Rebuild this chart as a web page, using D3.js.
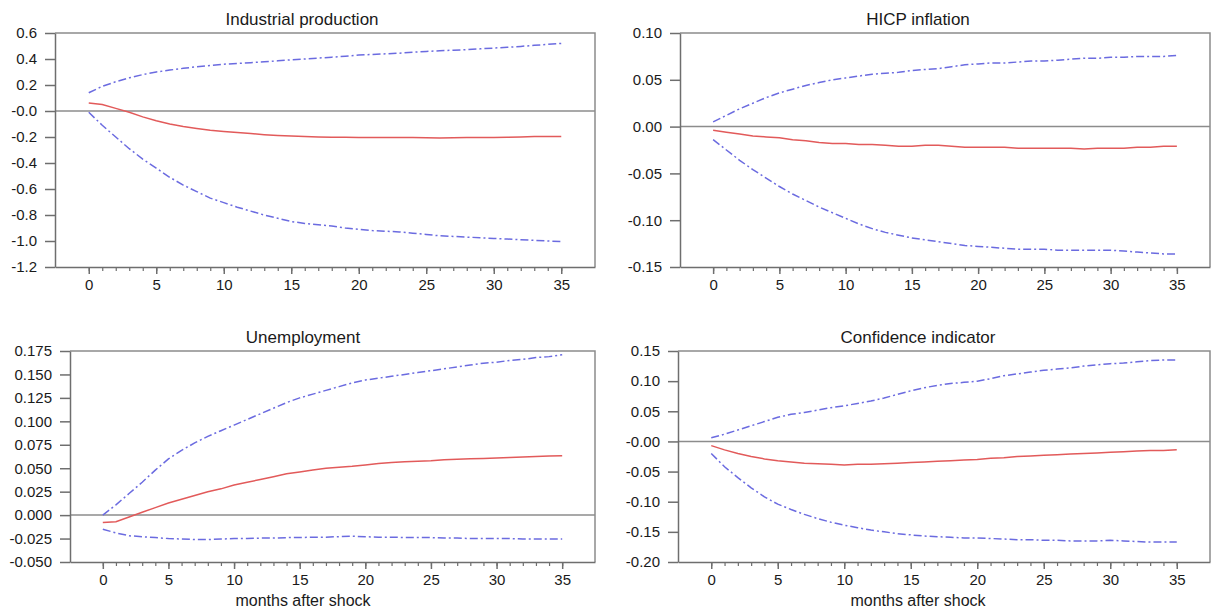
<!DOCTYPE html>
<html><head><meta charset="utf-8">
<script src="https://cdn.jsdelivr.net/npm/d3@7"></script>
<style>
body{margin:0;background:#fff}
svg{display:block}
text{font-family:Arial,"Liberation Sans",sans-serif;fill:#1a1a1a}
</style>
</head><body>
<svg id="chart" width="1211" height="615"></svg>
<script>
// ---------- DATA ----------
const months = [0,1,2,3,4,5,6,7,8,9,10,11,12,13,14,15,16,17,18,19,20,21,22,23,24,25,26,27,28,29,30,31,32,33,34,35];
const xMajorTicks = [0,5,10,15,20,25,30,35];

const titles = ["Industrial production","HICP inflation","Unemployment","Confidence indicator"];
const xAxisTitle = "months after shock";

// Industrial production
const ipMid = [0.062,0.05,0.02,-0.01,-0.045,-0.075,-0.1,-0.12,-0.135,-0.148,-0.158,-0.166,-0.174,-0.182,-0.188,-0.193,-0.197,-0.2,-0.202,-0.202,-0.203,-0.203,-0.203,-0.204,-0.204,-0.205,-0.208,-0.205,-0.203,-0.203,-0.203,-0.202,-0.2,-0.197,-0.196,-0.196];
const ipUp = [0.14,0.19,0.225,0.255,0.28,0.3,0.315,0.328,0.34,0.35,0.36,0.366,0.372,0.378,0.386,0.394,0.4,0.407,0.414,0.422,0.43,0.435,0.44,0.445,0.452,0.458,0.463,0.468,0.472,0.478,0.484,0.49,0.497,0.505,0.513,0.52];
const ipLo = [-0.01,-0.11,-0.2,-0.29,-0.37,-0.44,-0.51,-0.57,-0.62,-0.67,-0.705,-0.74,-0.77,-0.8,-0.825,-0.85,-0.865,-0.875,-0.885,-0.9,-0.91,-0.92,-0.925,-0.93,-0.94,-0.95,-0.96,-0.965,-0.97,-0.975,-0.98,-0.985,-0.99,-0.995,-1.0,-1.005];
const ipTicks = [0.6,0.4,0.2,0,-0.2,-0.4,-0.6,-0.8,-1.0,-1.2];
const ipTickLabels = ["0.6","0.4","0.2","-0.0","-0.2","-0.4","-0.6","-0.8","-1.0","-1.2"];

// HICP inflation
const hicpMid = [-0.004,-0.006,-0.008,-0.01,-0.011,-0.012,-0.014,-0.015,-0.017,-0.018,-0.018,-0.019,-0.019,-0.02,-0.021,-0.021,-0.02,-0.02,-0.021,-0.022,-0.022,-0.022,-0.022,-0.023,-0.023,-0.023,-0.023,-0.023,-0.024,-0.023,-0.023,-0.023,-0.022,-0.022,-0.021,-0.021];
const hicpUp = [0.005,0.012,0.019,0.025,0.031,0.036,0.04,0.044,0.047,0.05,0.052,0.054,0.056,0.057,0.058,0.06,0.061,0.062,0.064,0.066,0.067,0.068,0.068,0.069,0.07,0.07,0.071,0.072,0.073,0.073,0.074,0.074,0.075,0.075,0.075,0.076];
const hicpLo = [-0.014,-0.025,-0.036,-0.046,-0.055,-0.064,-0.072,-0.079,-0.086,-0.092,-0.098,-0.104,-0.109,-0.113,-0.116,-0.119,-0.121,-0.123,-0.125,-0.127,-0.128,-0.129,-0.13,-0.131,-0.131,-0.131,-0.132,-0.132,-0.132,-0.132,-0.132,-0.133,-0.134,-0.135,-0.136,-0.136];
const hicpTicks = [0.10,0.05,0,-0.05,-0.10,-0.15];
const hicpTickLabels = ["0.10","0.05","0.00","-0.05","-0.10","-0.15"];

// Unemployment
const unMid = [-0.008,-0.007,-0.002,0.003,0.008,0.013,0.017,0.021,0.025,0.028,0.032,0.035,0.038,0.041,0.044,0.046,0.048,0.05,0.051,0.052,0.0535,0.055,0.056,0.057,0.0575,0.058,0.059,0.0595,0.06,0.0605,0.061,0.0615,0.062,0.0625,0.063,0.0634];
const unUp = [0.0,0.011,0.023,0.035,0.048,0.06,0.069,0.077,0.084,0.09,0.096,0.102,0.108,0.114,0.12,0.125,0.129,0.133,0.137,0.141,0.144,0.146,0.148,0.15,0.152,0.154,0.156,0.158,0.16,0.162,0.163,0.165,0.166,0.168,0.169,0.171];
const unLo = [-0.015,-0.019,-0.022,-0.023,-0.024,-0.025,-0.0255,-0.026,-0.026,-0.0255,-0.025,-0.025,-0.0245,-0.0245,-0.024,-0.024,-0.0235,-0.0235,-0.023,-0.0225,-0.023,-0.0235,-0.0235,-0.024,-0.024,-0.024,-0.0245,-0.0245,-0.025,-0.025,-0.025,-0.025,-0.0255,-0.0255,-0.0255,-0.0255];
const unTicks = [0.175,0.15,0.125,0.1,0.075,0.05,0.025,0,-0.025,-0.05];
const unTickLabels = ["0.175","0.150","0.125","0.100","0.075","0.050","0.025","0.000","-0.025","-0.050"];

// Confidence indicator
const ciMid = [-0.007,-0.014,-0.02,-0.025,-0.029,-0.032,-0.034,-0.036,-0.037,-0.038,-0.039,-0.038,-0.038,-0.037,-0.036,-0.035,-0.034,-0.033,-0.032,-0.031,-0.03,-0.028,-0.027,-0.025,-0.024,-0.023,-0.022,-0.021,-0.02,-0.019,-0.018,-0.017,-0.016,-0.015,-0.015,-0.014];
const ciUp = [0.006,0.012,0.019,0.026,0.033,0.04,0.045,0.048,0.052,0.056,0.059,0.063,0.067,0.072,0.078,0.084,0.089,0.093,0.096,0.098,0.1,0.104,0.109,0.112,0.115,0.118,0.12,0.122,0.125,0.127,0.129,0.13,0.132,0.134,0.135,0.135];
const ciLo = [-0.02,-0.042,-0.06,-0.077,-0.092,-0.104,-0.113,-0.121,-0.128,-0.134,-0.139,-0.143,-0.147,-0.15,-0.153,-0.155,-0.157,-0.158,-0.159,-0.16,-0.16,-0.161,-0.162,-0.163,-0.163,-0.164,-0.164,-0.165,-0.165,-0.165,-0.164,-0.165,-0.166,-0.167,-0.167,-0.167];
const ciTicks = [0.15,0.10,0.05,0,-0.05,-0.10,-0.15,-0.20];
const ciTickLabels = ["0.15","0.10","0.05","-0.00","-0.05","-0.10","-0.15","-0.20"];

// ---------- LAYOUT / STYLE ----------
const panels = [
  {title:titles[0], mid:ipMid, up:ipUp, lo:ipLo, ticks:ipTicks, labels:ipTickLabels,
   box:{x0:55,x1:595,y0:33,y1:267}, cx:302, xTitle:false},
  {title:titles[1], mid:hicpMid, up:hicpUp, lo:hicpLo, ticks:hicpTicks, labels:hicpTickLabels,
   box:{x0:680,x1:1210,y0:33,y1:267}, cx:918, xTitle:false},
  {title:titles[2], mid:unMid, up:unUp, lo:unLo, ticks:unTicks, labels:unTickLabels,
   box:{x0:70,x1:595,y0:351,y1:562}, cx:303, xTitle:true},
  {title:titles[3], mid:ciMid, up:ciUp, lo:ciLo, ticks:ciTicks, labels:ciTickLabels,
   box:{x0:678,x1:1210,y0:351,y1:562}, cx:918, xTitle:true}
];

const AXIS = "#6e6e6e", BORDER = "#8c8c8c", RED = "#e25a5a", BLUE = "#6b6be0";
const svg = d3.select("#chart");

panels.forEach(p => {
  const b = p.box;
  const g = svg.append("g");
  const x = d3.scaleLinear().domain([-2.5, 37.5]).range([b.x0, b.x1]);
  const y = d3.scaleLinear().domain([p.ticks[p.ticks.length-1], p.ticks[0]]).range([b.y1, b.y0]);

  // title
  g.append("text").attr("x", p.cx).attr("y", b.y0 - 8).attr("text-anchor","middle")
    .style("font-size","17px").text(p.title);

  // top / right border
  g.append("path").attr("d", `M${b.x0},${b.y0}H${b.x1}V${b.y1}`)
    .attr("fill","none").attr("stroke",BORDER).attr("stroke-width",1.5);

  // zero line
  g.append("line").attr("x1", b.x0).attr("x2", b.x1).attr("y1", y(0)).attr("y2", y(0))
    .attr("stroke",BORDER).attr("stroke-width",1.5);

  // y axis
  const ya = g.append("g").attr("transform",`translate(${b.x0},0)`)
    .call(d3.axisLeft(y).tickValues(p.ticks).tickFormat((d,i)=>p.labels[i]).tickSize(10).tickSizeOuter(0).tickPadding(8));
  ya.selectAll("path,line").attr("stroke",AXIS).attr("stroke-width",1.5);
  ya.selectAll("text").style("font-size","15px").attr("fill","#1a1a1a").style("font-family","Arial, 'Liberation Sans', sans-serif");

  // x axis minor
  const xm = g.append("g").attr("transform",`translate(0,${b.y1})`)
    .call(d3.axisBottom(x).tickValues(months).tickFormat("").tickSize(4).tickSizeOuter(0));
  xm.selectAll("path,line").attr("stroke",AXIS).attr("stroke-width",1.2);
  xm.select("path").attr("stroke-width",1.5);
  // x axis major
  const xM = g.append("g").attr("transform",`translate(0,${b.y1})`)
    .call(d3.axisBottom(x).tickValues(xMajorTicks).tickFormat(d3.format("d")).tickSize(7).tickSizeOuter(0).tickPadding(5));
  xM.select("path").remove();
  xM.selectAll("line").attr("stroke",AXIS).attr("stroke-width",1.5);
  xM.selectAll("text").style("font-size","15px").attr("fill","#1a1a1a").style("font-family","Arial, 'Liberation Sans', sans-serif");

  if (p.xTitle) {
    g.append("text").attr("x", p.cx).attr("y", 606).attr("text-anchor","middle")
      .style("font-size","16px").text(xAxisTitle);
  }

  const line = d3.line().x((d,i)=>x(months[i])).y(d=>y(d));
  [[p.up,BLUE,"8,3,2,3"],[p.lo,BLUE,"8,3,2,3"],[p.mid,RED,null]].forEach(([vals,col,dash])=>{
    const path = g.append("path").datum(vals).attr("d", line)
      .attr("fill","none").attr("stroke",col).attr("stroke-width",1.5);
    if (dash) path.attr("stroke-dasharray", dash);
  });
});
</script>
</body></html>
